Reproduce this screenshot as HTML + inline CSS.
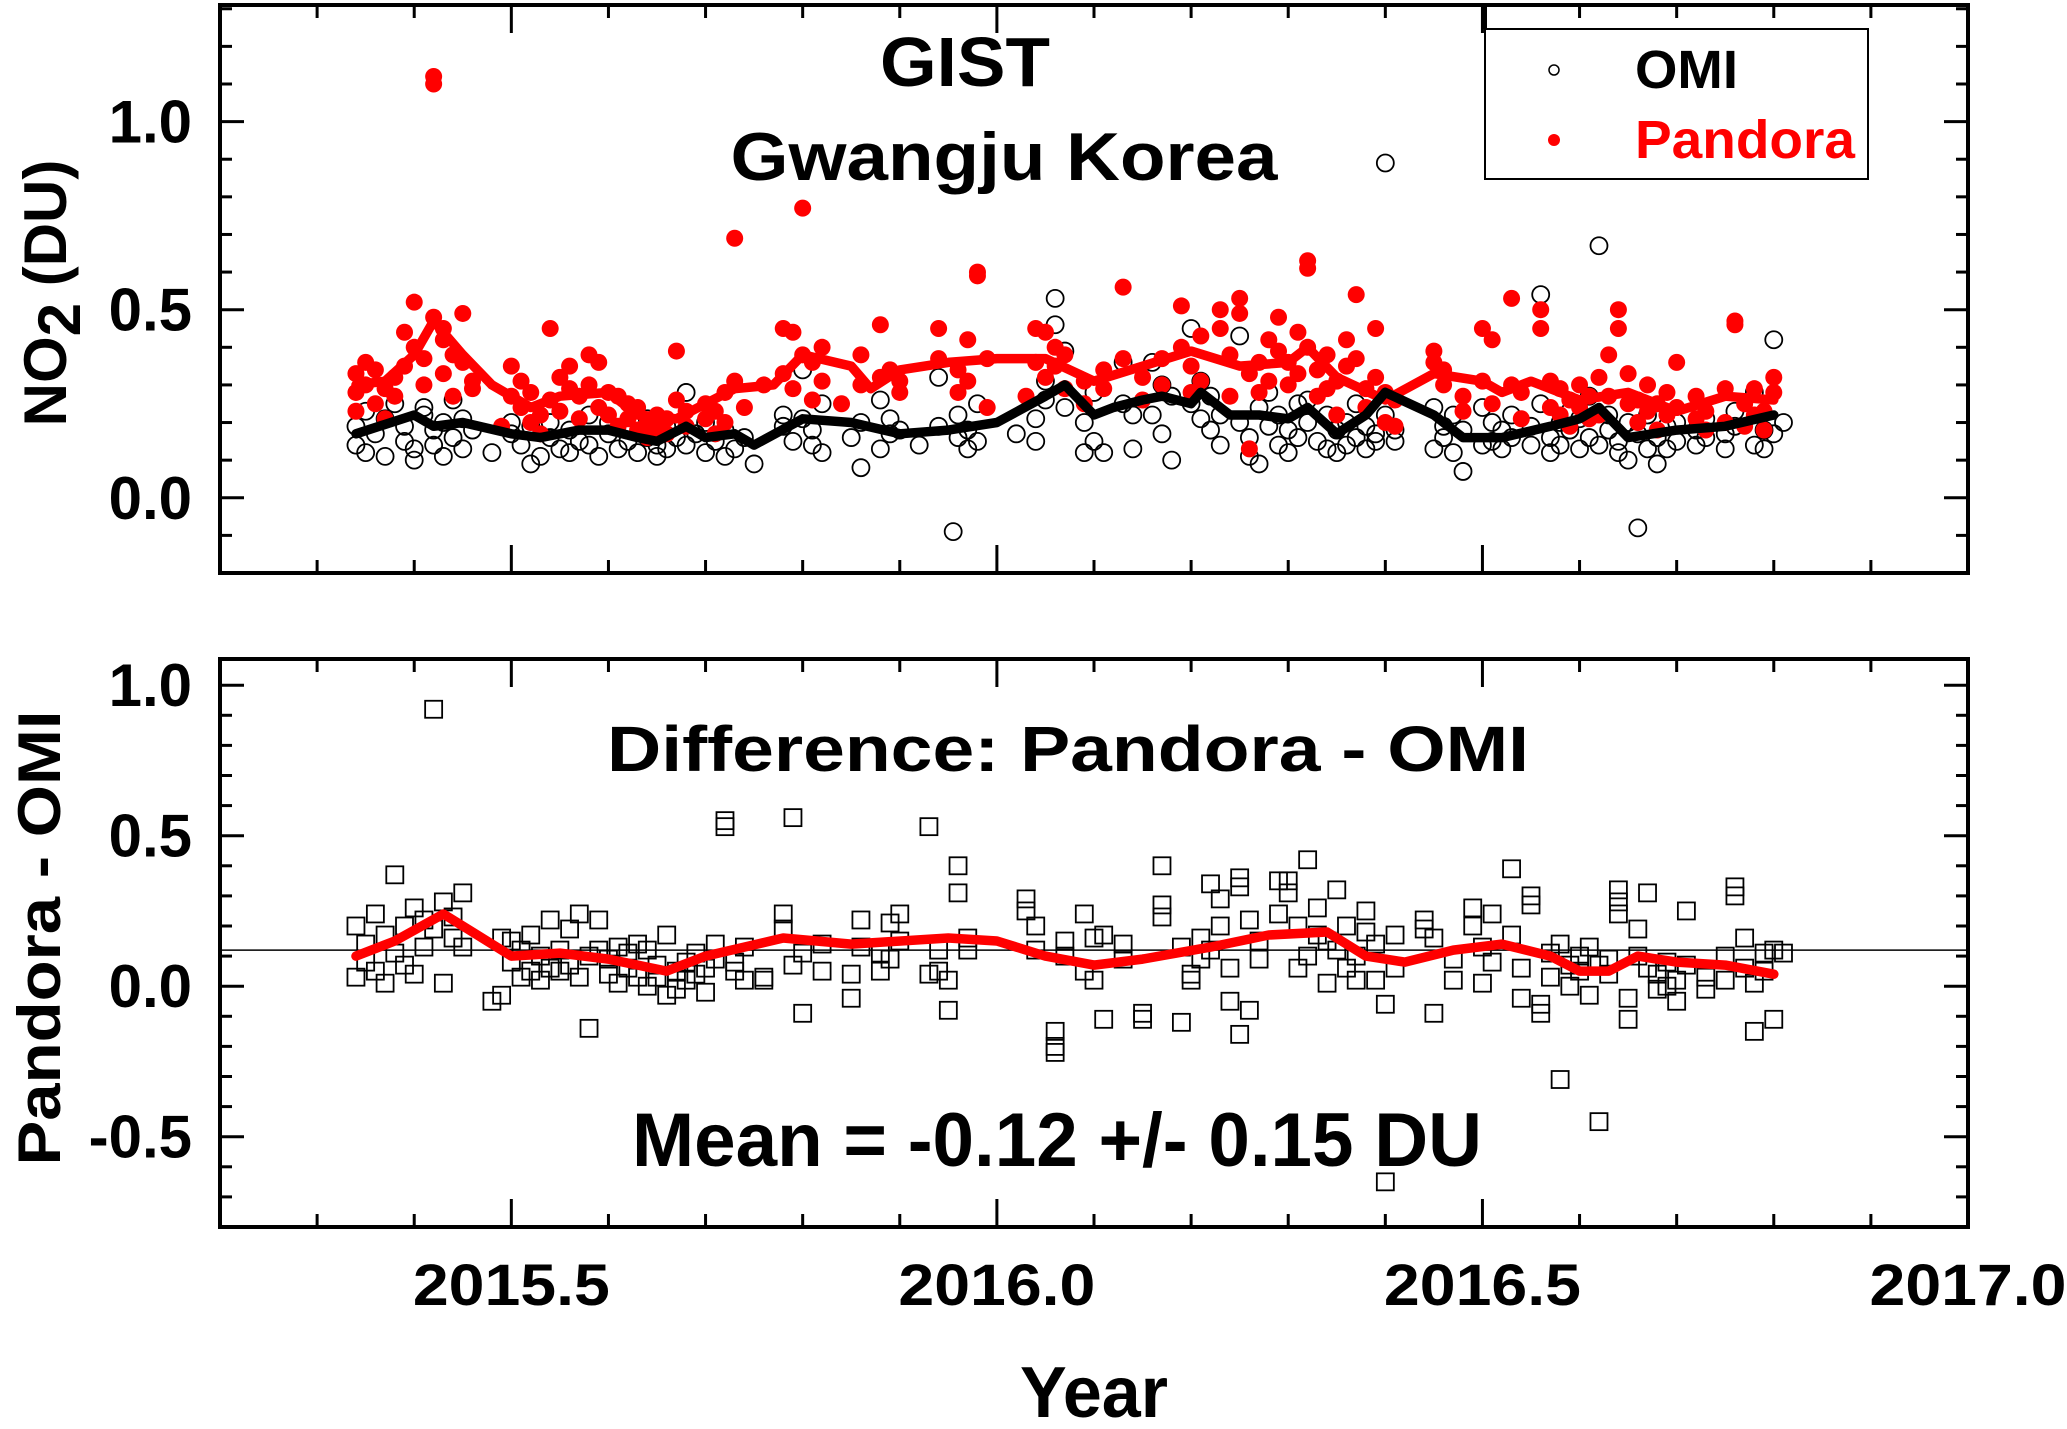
<!DOCTYPE html>
<html><head><meta charset="utf-8"><style>
html,body{margin:0;padding:0;background:#fff}
svg{display:block}
text{font-family:"Liberation Sans",Arial,sans-serif;font-weight:bold}
</style></head><body>
<svg id="chart" width="2067" height="1429" viewBox="0 0 2067 1429" xmlns="http://www.w3.org/2000/svg">
<rect width="2067" height="1429" fill="#fff"/>
<g id="topPanel"></g>
<g id="botPanel"></g>
<g id="txt">
<text x="965" y="86" font-size="70" text-anchor="middle" textLength="170" lengthAdjust="spacingAndGlyphs">GIST</text>
<text x="1004" y="180" font-size="68" text-anchor="middle" textLength="547" lengthAdjust="spacingAndGlyphs">Gwangju Korea</text>
<text x="1068" y="771" font-size="64" text-anchor="middle" textLength="922" lengthAdjust="spacingAndGlyphs">Difference: Pandora - OMI</text>
<text x="1057" y="1166" font-size="76" text-anchor="middle" textLength="850" lengthAdjust="spacingAndGlyphs">Mean = -0.12 +/- 0.15 DU</text>
<text x="1094" y="1417" font-size="72" text-anchor="middle" textLength="148" lengthAdjust="spacingAndGlyphs">Year</text>
<text transform="translate(66,293) rotate(-90)" font-size="60" text-anchor="middle">NO<tspan dy="14">2</tspan><tspan dy="-14"> (DU)</tspan></text>
<text transform="translate(60,938) rotate(-90)" font-size="60" text-anchor="middle" textLength="455" lengthAdjust="spacingAndGlyphs">Pandora - OMI</text>
</g>
<g>
<rect x="1485" y="29" width="383" height="150" fill="#fff" stroke="#000" stroke-width="2"/>
<line x1="1485" y1="5" x2="1485" y2="29" stroke="#000" stroke-width="4"/>
<circle cx="1554" cy="70" r="5" fill="none" stroke="#000" stroke-width="1.5"/>
<text x="1635" y="88" font-size="54" textLength="103" lengthAdjust="spacingAndGlyphs">OMI</text>
<circle cx="1554" cy="140" r="6" fill="#f00"/>
<text x="1635" y="158" font-size="54" fill="#f00" textLength="220" lengthAdjust="spacingAndGlyphs">Pandora</text>
</g>
</svg>
<script>
const xTicks=[2015.5,2016.0,2016.5,2017.0];
const xTickLabels=["2015.5","2016.0","2016.5","2017.0"];
const topYTicks=[0.0,0.5,1.0];
const topYTickLabels=["0.0","0.5","1.0"];
const botYTicks=[-0.5,0.0,0.5,1.0];
const botYTickLabels=["-0.5","0.0","0.5","1.0"];
const meanLine=0.12;
const omiSmooth=[[2015.34,.17],[2015.40,.22],[2015.42,.19],[2015.45,.20],[2015.5,.17],[2015.53,.16],[2015.57,.18],[2015.6,.18],[2015.63,.16],[2015.65,.15],[2015.68,.19],[2015.7,.16],[2015.73,.17],[2015.75,.14],[2015.8,.21],[2015.85,.20],[2015.9,.17],[2015.95,.18],[2016.0,.20],[2016.05,.27],[2016.07,.30],[2016.1,.22],[2016.12,.24],[2016.15,.26],[2016.17,.27],[2016.2,.25],[2016.21,.28],[2016.24,.22],[2016.27,.22],[2016.3,.21],[2016.32,.24],[2016.35,.17],[2016.38,.22],[2016.4,.28],[2016.45,.22],[2016.48,.16],[2016.52,.16],[2016.57,.19],[2016.6,.21],[2016.62,.24],[2016.65,.16],[2016.7,.18],[2016.75,.19],[2016.8,.22]];
const pandoraSmooth=[[2015.34,.30],[2015.37,.31],[2015.4,.38],[2015.42,.47],[2015.45,.38],[2015.48,.30],[2015.52,.24],[2015.55,.27],[2015.6,.28],[2015.63,.22],[2015.67,.21],[2015.7,.25],[2015.73,.29],[2015.77,.30],[2015.8,.38],[2015.85,.35],[2015.87,.29],[2015.9,.34],[2015.95,.36],[2016.0,.37],[2016.05,.37],[2016.1,.31],[2016.15,.35],[2016.2,.39],[2016.25,.35],[2016.3,.36],[2016.32,.40],[2016.35,.32],[2016.4,.26],[2016.45,.33],[2016.5,.31],[2016.52,.28],[2016.55,.31],[2016.6,.26],[2016.65,.28],[2016.7,.23],[2016.75,.27],[2016.8,.26]];
const diffSmooth=[[2015.34,.10],[2015.38,.15],[2015.43,.24],[2015.46,.18],[2015.5,.10],[2015.55,.11],[2015.6,.09],[2015.66,.05],[2015.7,.10],[2015.78,.16],[2015.85,.14],[2015.95,.16],[2016.0,.15],[2016.05,.10],[2016.1,.07],[2016.15,.09],[2016.22,.13],[2016.28,.17],[2016.34,.18],[2016.38,.10],[2016.42,.08],[2016.47,.12],[2016.52,.14],[2016.57,.10],[2016.6,.05],[2016.63,.05],[2016.66,.10],[2016.7,.08],[2016.75,.07],[2016.8,.04]];
const omiPoints=[[2015.34,.19],[2015.34,.14],[2015.35,.23],[2015.35,.12],[2015.36,.17],[2015.37,.21],[2015.37,.11],[2015.38,.25],[2015.39,.15],[2015.39,.19],[2015.40,.13],[2015.40,.10],[2015.41,.22],[2015.41,.24],[2015.42,.18],[2015.42,.14],[2015.43,.20],[2015.43,.11],[2015.44,.26],[2015.44,.16],[2015.45,.21],[2015.45,.13],[2015.46,.18],[2015.48,.12],[2015.50,.20],[2015.50,.17],[2015.51,.14],[2015.52,.09],[2015.52,.19],[2015.53,.11],[2015.54,.16],[2015.54,.20],[2015.55,.13],[2015.56,.18],[2015.56,.12],[2015.57,.15],[2015.58,.22],[2015.58,.14],[2015.59,.11],[2015.60,.17],[2015.60,.20],[2015.61,.13],[2015.62,.15],[2015.62,.18],[2015.63,.12],[2015.64,.16],[2015.64,.21],[2015.65,.11],[2015.65,.14],[2015.66,.19],[2015.66,.13],[2015.67,.16],[2015.68,.28],[2015.68,.14],[2015.69,.17],[2015.70,.12],[2015.70,.20],[2015.71,.15],[2015.72,.11],[2015.72,.18],[2015.73,.13],[2015.74,.16],[2015.75,.09],[2015.78,.19],[2015.78,.22],[2015.79,.15],[2015.80,.34],[2015.80,.21],[2015.81,.14],[2015.81,.18],[2015.82,.25],[2015.82,.12],[2015.85,.16],[2015.86,.08],[2015.86,.20],[2015.88,.26],[2015.88,.13],[2015.89,.21],[2015.89,.17],[2015.90,.18],[2015.92,.14],[2015.94,.32],[2015.94,.19],[2015.955,-.09],[2015.96,.22],[2015.96,.16],[2015.97,.13],[2015.97,.18],[2015.98,.25],[2015.98,.15],[2016.02,.17],[2016.04,.21],[2016.04,.15],[2016.05,.31],[2016.05,.26],[2016.06,.53],[2016.06,.46],[2016.07,.39],[2016.07,.24],[2016.09,.12],[2016.09,.20],[2016.10,.15],[2016.10,.28],[2016.11,.12],[2016.13,.36],[2016.13,.25],[2016.14,.22],[2016.14,.13],[2016.16,.36],[2016.16,.22],[2016.17,.17],[2016.17,.30],[2016.18,.10],[2016.18,.27],[2016.20,.45],[2016.20,.25],[2016.21,.21],[2016.21,.31],[2016.22,.18],[2016.22,.27],[2016.23,.14],[2016.23,.22],[2016.25,.43],[2016.25,.20],[2016.26,.16],[2016.26,.11],[2016.27,.09],[2016.27,.24],[2016.28,.28],[2016.28,.19],[2016.29,.14],[2016.29,.22],[2016.30,.18],[2016.30,.12],[2016.31,.25],[2016.31,.16],[2016.32,.26],[2016.32,.20],[2016.33,.15],[2016.34,.13],[2016.34,.22],[2016.35,.18],[2016.35,.12],[2016.36,.20],[2016.36,.14],[2016.37,.16],[2016.37,.25],[2016.38,.13],[2016.38,.19],[2016.39,.17],[2016.39,.15],[2016.40,.89],[2016.40,.22],[2016.41,.18],[2016.41,.15],[2016.45,.24],[2016.45,.13],[2016.46,.16],[2016.46,.19],[2016.47,.12],[2016.47,.22],[2016.48,.07],[2016.48,.18],[2016.50,.14],[2016.50,.24],[2016.51,.20],[2016.51,.15],[2016.52,.13],[2016.52,.18],[2016.53,.22],[2016.53,.16],[2016.55,.19],[2016.55,.14],[2016.56,.54],[2016.56,.25],[2016.57,.16],[2016.57,.12],[2016.58,.20],[2016.58,.14],[2016.59,.18],[2016.59,.23],[2016.60,.13],[2016.60,.21],[2016.61,.16],[2016.61,.27],[2016.62,.67],[2016.62,.14],[2016.63,.22],[2016.63,.18],[2016.64,.12],[2016.64,.15],[2016.65,.20],[2016.65,.10],[2016.66,-.08],[2016.66,.17],[2016.67,.13],[2016.67,.22],[2016.68,.09],[2016.68,.16],[2016.69,.19],[2016.69,.13],[2016.70,.15],[2016.70,.20],[2016.72,.14],[2016.72,.18],[2016.73,.21],[2016.73,.16],[2016.75,.17],[2016.75,.13],[2016.76,.23],[2016.76,.19],[2016.78,.14],[2016.78,.28],[2016.79,.18],[2016.79,.13],[2016.80,.42],[2016.80,.17],[2016.81,.20]];
const pandoraPoints=[[2015.34,.33],[2015.34,.23],[2015.34,.28],[2015.35,.36],[2015.35,.30],[2015.36,.25],[2015.36,.34],[2015.37,.29],[2015.37,.21],[2015.38,.32],[2015.38,.27],[2015.39,.44],[2015.39,.35],[2015.40,.52],[2015.40,.40],[2015.41,.30],[2015.41,.37],[2015.42,1.12],[2015.42,1.10],[2015.42,.48],[2015.43,.45],[2015.43,.42],[2015.43,.33],[2015.44,.38],[2015.44,.27],[2015.45,.49],[2015.45,.36],[2015.46,.31],[2015.46,.29],[2015.49,.19],[2015.50,.35],[2015.50,.27],[2015.51,.31],[2015.51,.24],[2015.52,.20],[2015.52,.28],[2015.53,.22],[2015.53,.17],[2015.54,.45],[2015.54,.26],[2015.55,.32],[2015.55,.23],[2015.56,.35],[2015.56,.29],[2015.57,.27],[2015.57,.21],[2015.58,.38],[2015.58,.30],[2015.59,.36],[2015.59,.24],[2015.60,.22],[2015.60,.28],[2015.61,.27],[2015.61,.19],[2015.62,.25],[2015.62,.21],[2015.63,.24],[2015.63,.18],[2015.64,.20],[2015.64,.16],[2015.65,.22],[2015.65,.18],[2015.66,.21],[2015.66,.17],[2015.67,.39],[2015.67,.26],[2015.68,.19],[2015.68,.23],[2015.70,.25],[2015.70,.21],[2015.71,.23],[2015.71,.17],[2015.72,.28],[2015.72,.20],[2015.73,.69],[2015.73,.31],[2015.74,.24],[2015.76,.30],[2015.78,.45],[2015.78,.33],[2015.79,.44],[2015.79,.29],[2015.80,.77],[2015.80,.38],[2015.81,.36],[2015.81,.26],[2015.82,.40],[2015.82,.31],[2015.84,.25],[2015.86,.38],[2015.86,.30],[2015.88,.46],[2015.88,.32],[2015.89,.34],[2015.90,.31],[2015.90,.28],[2015.94,.45],[2015.94,.37],[2015.96,.34],[2015.96,.28],[2015.97,.42],[2015.97,.31],[2015.98,.60],[2015.98,.59],[2015.99,.37],[2015.99,.24],[2016.03,.27],[2016.04,.45],[2016.04,.36],[2016.05,.44],[2016.05,.32],[2016.06,.40],[2016.06,.35],[2016.07,.38],[2016.07,.29],[2016.09,.31],[2016.09,.25],[2016.11,.29],[2016.11,.34],[2016.13,.56],[2016.13,.37],[2016.15,.32],[2016.15,.26],[2016.17,.30],[2016.17,.37],[2016.19,.51],[2016.19,.40],[2016.20,.35],[2016.20,.28],[2016.21,.43],[2016.21,.31],[2016.23,.50],[2016.23,.45],[2016.24,.38],[2016.24,.27],[2016.25,.53],[2016.25,.49],[2016.26,.13],[2016.26,.33],[2016.27,.36],[2016.27,.28],[2016.28,.42],[2016.28,.31],[2016.29,.48],[2016.29,.39],[2016.30,.36],[2016.30,.30],[2016.31,.44],[2016.31,.33],[2016.32,.63],[2016.32,.61],[2016.32,.40],[2016.33,.34],[2016.33,.27],[2016.34,.38],[2016.34,.29],[2016.35,.31],[2016.35,.22],[2016.36,.42],[2016.36,.35],[2016.37,.54],[2016.37,.37],[2016.38,.29],[2016.38,.24],[2016.39,.45],[2016.39,.32],[2016.40,.28],[2016.40,.20],[2016.41,.26],[2016.41,.19],[2016.45,.39],[2016.45,.36],[2016.46,.34],[2016.46,.30],[2016.48,.27],[2016.48,.23],[2016.50,.45],[2016.50,.31],[2016.51,.42],[2016.51,.25],[2016.53,.53],[2016.53,.30],[2016.54,.28],[2016.54,.21],[2016.56,.50],[2016.56,.45],[2016.57,.31],[2016.57,.24],[2016.58,.29],[2016.58,.22],[2016.59,.26],[2016.59,.19],[2016.60,.30],[2016.60,.24],[2016.61,.27],[2016.61,.21],[2016.62,.22],[2016.62,.32],[2016.63,.38],[2016.63,.27],[2016.64,.50],[2016.64,.45],[2016.65,.33],[2016.65,.25],[2016.66,.26],[2016.66,.20],[2016.67,.30],[2016.67,.23],[2016.68,.25],[2016.68,.18],[2016.69,.22],[2016.69,.28],[2016.70,.36],[2016.70,.24],[2016.72,.27],[2016.72,.21],[2016.73,.23],[2016.73,.18],[2016.75,.29],[2016.75,.20],[2016.76,.47],[2016.76,.46],[2016.77,.25],[2016.77,.19],[2016.78,.29],[2016.78,.22],[2016.79,.23],[2016.79,.18],[2016.80,.32],[2016.80,.28]];
const diffPoints=[[2015.34,.03],[2015.34,.20],[2015.35,.08],[2015.35,.14],[2015.36,.24],[2015.36,.05],[2015.37,.17],[2015.37,.01],[2015.38,.37],[2015.38,.11],[2015.39,.07],[2015.39,.20],[2015.40,.04],[2015.40,.26],[2015.41,.13],[2015.41,.22],[2015.42,.92],[2015.42,.19],[2015.43,.01],[2015.43,.28],[2015.44,.23],[2015.44,.16],[2015.45,.31],[2015.45,.13],[2015.48,-.05],[2015.49,-.03],[2015.49,.16],[2015.50,.15],[2015.50,.08],[2015.51,.12],[2015.51,.03],[2015.52,.17],[2015.52,.05],[2015.53,.02],[2015.53,.10],[2015.54,.22],[2015.54,.06],[2015.55,.12],[2015.55,.05],[2015.56,.19],[2015.56,.07],[2015.57,.24],[2015.57,.03],[2015.58,-.14],[2015.58,.10],[2015.59,.22],[2015.59,.12],[2015.60,.09],[2015.60,.04],[2015.61,.13],[2015.61,.01],[2015.62,.06],[2015.62,.11],[2015.63,.03],[2015.63,.14],[2015.64,.12],[2015.64,.00],[2015.65,.07],[2015.65,.03],[2015.66,.17],[2015.66,-.03],[2015.67,.05],[2015.67,-.01],[2015.68,.08],[2015.68,.02],[2015.69,.11],[2015.69,.04],[2015.70,.06],[2015.70,-.02],[2015.71,.14],[2015.71,.09],[2015.72,.55],[2015.72,.53],[2015.73,.08],[2015.73,.05],[2015.74,.13],[2015.74,.02],[2015.76,.03],[2015.76,.02],[2015.78,.24],[2015.78,.19],[2015.79,.56],[2015.79,.07],[2015.80,-.09],[2015.80,.11],[2015.82,.14],[2015.82,.05],[2015.85,.04],[2015.85,-.04],[2015.86,.22],[2015.86,.13],[2015.88,.11],[2015.88,.05],[2015.89,.21],[2015.89,.09],[2015.90,.24],[2015.90,.15],[2015.93,.53],[2015.93,.04],[2015.94,.12],[2015.94,.05],[2015.95,-.08],[2015.95,.02],[2015.96,.40],[2015.96,.31],[2015.97,.16],[2015.97,.12],[2016.03,.29],[2016.03,.25],[2016.04,.20],[2016.04,.12],[2016.06,-.15],[2016.06,-.22],[2016.06,-.20],[2016.07,.15],[2016.07,.10],[2016.09,.24],[2016.09,.05],[2016.10,.16],[2016.10,.02],[2016.11,-.11],[2016.11,.17],[2016.13,.14],[2016.13,.09],[2016.15,-.09],[2016.15,-.11],[2016.17,.40],[2016.17,.27],[2016.17,.23],[2016.19,.13],[2016.19,-.12],[2016.20,.04],[2016.20,.02],[2016.21,.09],[2016.21,.16],[2016.22,.34],[2016.22,.12],[2016.23,.20],[2016.23,.29],[2016.24,.06],[2016.24,-.05],[2016.25,-.16],[2016.25,.36],[2016.25,.33],[2016.26,.22],[2016.26,-.08],[2016.27,.15],[2016.27,.09],[2016.29,.35],[2016.29,.24],[2016.30,.31],[2016.30,.35],[2016.31,.20],[2016.31,.06],[2016.32,.42],[2016.32,.10],[2016.33,.26],[2016.33,.17],[2016.34,.01],[2016.34,.15],[2016.35,.32],[2016.35,.12],[2016.36,.20],[2016.36,.06],[2016.37,.10],[2016.37,.02],[2016.38,.25],[2016.38,.18],[2016.39,.14],[2016.39,.02],[2016.40,-.65],[2016.40,-.06],[2016.41,.17],[2016.41,.06],[2016.44,.22],[2016.44,.19],[2016.45,-.09],[2016.45,.16],[2016.47,.02],[2016.47,.09],[2016.49,.26],[2016.49,.20],[2016.50,.13],[2016.50,.01],[2016.51,.24],[2016.51,.08],[2016.53,.17],[2016.53,.39],[2016.54,.06],[2016.54,-.04],[2016.55,.27],[2016.55,.30],[2016.56,-.09],[2016.56,-.06],[2016.57,.11],[2016.57,.03],[2016.58,-.31],[2016.58,.14],[2016.59,.07],[2016.59,.00],[2016.60,.05],[2016.60,.10],[2016.61,.13],[2016.61,-.03],[2016.62,-.45],[2016.62,.07],[2016.63,.04],[2016.63,.09],[2016.64,.28],[2016.64,.24],[2016.64,.32],[2016.65,-.04],[2016.65,-.11],[2016.66,.10],[2016.66,.19],[2016.67,.31],[2016.67,.06],[2016.68,.04],[2016.68,-.01],[2016.69,.00],[2016.69,.08],[2016.70,-.05],[2016.70,.02],[2016.71,.25],[2016.71,.07],[2016.73,.03],[2016.73,-.01],[2016.75,.02],[2016.75,.10],[2016.76,.33],[2016.76,.30],[2016.77,.16],[2016.77,.06],[2016.78,-.15],[2016.78,.01],[2016.79,.05],[2016.79,.11],[2016.80,.12],[2016.80,-.11],[2016.81,.11]];

const NS="http://www.w3.org/2000/svg";
const L=220,R=1968;
const xMin=2015.2,xMax=2017.0;
function xs(v){return L+(v-xMin)/(xMax-xMin)*(R-L);}
const topP={top:5,bottom:573,min:-0.2,max:1.31};
const botP={top:659,bottom:1227,min:-0.8,max:1.087};
function ys(p,v){return p.bottom-(v-p.min)/(p.max-p.min)*(p.bottom-p.top);}
function mk(tag,attrs,parent){const e=document.createElementNS(NS,tag);for(const k in attrs)e.setAttribute(k,attrs[k]);parent.appendChild(e);return e;}

function frame(g,p,yt,ytl,nm){
  const f=mk('rect',{x:L,y:p.top,width:R-L,height:p.bottom-p.top,fill:'none',stroke:'#000','stroke-width':4},g);
  
  
  for(let i=0;i<=18;i++){
    const v=xMin+i*0.1;const x=xs(v);const major=(i%5===3);const len=major?28:13;
    mk('line',{x1:x,y1:p.bottom,x2:x,y2:p.bottom-len,stroke:'#000','stroke-width':3},g);
    mk('line',{x1:x,y1:p.top,x2:x,y2:p.top+len,stroke:'#000','stroke-width':3},g);
  }
  const start=Math.ceil(p.min*10-1e-6),end=Math.floor(p.max*10+1e-6);
  for(let k=start;k<=end;k++){
    const v=k/10;const y=ys(p,v);const major=(Math.abs(k)%5===0);const len=major?24:12;
    mk('line',{x1:L,y1:y,x2:L+len,y2:y,stroke:'#000','stroke-width':3},g);
    mk('line',{x1:R,y1:y,x2:R-len,y2:y,stroke:'#000','stroke-width':3},g);
  }
  yt.forEach((v,i)=>{
    const t=mk('text',{x:192,y:ys(p,v)+21,'font-size':60,'text-anchor':'end'},g);
    
    
    t.textContent=ytl[i];
  });
}
function drawLine(g,p,data,color,nm){
  const d=data.map((q,i)=>(i?'L':'M')+xs(q[0]).toFixed(1)+','+ys(p,q[1]).toFixed(1)).join(' ');
  const e=mk('path',{d:d,fill:'none',stroke:color,'stroke-width':9.5,'stroke-linejoin':'round','stroke-linecap':'round'},g);
  
  
}
const topG=document.getElementById('topPanel'),botG=document.getElementById('botPanel');
frame(topG,topP,topYTicks,topYTickLabels,'top');
frame(botG,botP,botYTicks,botYTickLabels,'bottom');

omiPoints.forEach(q=>{
  const c=mk('circle',{cx:xs(q[0]),cy:ys(topP,q[1]),r:8.5,fill:'none',stroke:'#000','stroke-width':1.8},topG);
  
  
});
pandoraPoints.forEach(q=>{
  const c=mk('circle',{cx:xs(q[0]),cy:ys(topP,q[1]),r:8.5,fill:'#f00'},topG);
  
  
});
drawLine(topG,topP,pandoraSmooth,'#f00','pandora-smooth-line');
drawLine(topG,topP,omiSmooth,'#000','omi-smooth-line');

const ml=mk('line',{x1:L,x2:R,y1:ys(botP,meanLine),y2:ys(botP,meanLine),stroke:'#000','stroke-width':1.5},botG);


diffPoints.forEach(q=>{
  const s=mk('rect',{x:xs(q[0])-8.5,y:ys(botP,q[1])-8.5,width:17,height:17,fill:'none',stroke:'#000','stroke-width':1.8},botG);
  
  
});
drawLine(botG,botP,diffSmooth,'#f00','difference-smooth-line');

xTicks.forEach((v,i)=>{
  const t=mk('text',{x:xs(v),y:1305,'font-size':58,'text-anchor':'middle',textLength:197,lengthAdjust:'spacingAndGlyphs'},botG);
  
  
  t.textContent=xTickLabels[i];
});
</script>
</body></html>
